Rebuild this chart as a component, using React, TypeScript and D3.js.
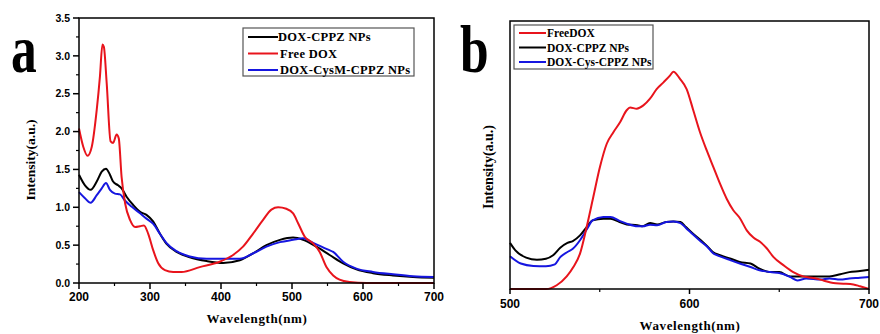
import React from 'react';
import * as d3 from 'd3';

// ---- panel a: UV-vis absorbance ----
const absWl = [200, 206, 212, 218, 225, 229.5, 233, 235, 239, 244.5, 248, 253, 256, 260, 265, 272, 279, 286, 291.5, 297.5, 304.6, 311.6, 321, 332.7, 344.5, 370, 398, 417, 431, 445, 459, 471, 480.5, 492, 501.6, 508.6, 518, 530, 539, 548.5, 558, 567, 581, 605, 700];
const absFreeDox = [2.04, 1.8, 1.68, 1.8, 2.29, 2.73, 3.15, 3.12, 2.64, 1.87, 1.85, 1.96, 1.91, 1.4, 1.05, 0.83, 0.74, 0.75, 0.76, 0.65, 0.43, 0.26, 0.17, 0.146, 0.146, 0.21, 0.28, 0.37, 0.48, 0.65, 0.83, 0.97, 1.0, 0.98, 0.92, 0.79, 0.61, 0.52, 0.41, 0.21, 0.1, 0.044, 0.013, 0, 0];

const absWl2 = [200, 208.4, 216.4, 225, 232, 238, 243.6, 248, 255, 260, 267, 276.4, 286, 295, 304.6, 314, 323, 337.4, 356, 379.8, 403, 426.5, 445, 464, 483, 501.6, 515.7, 534.4, 553, 572, 590.7, 614, 642.3, 670.4, 700];
const absCppz = [1.43, 1.29, 1.23, 1.34, 1.47, 1.51, 1.43, 1.34, 1.29, 1.25, 1.14, 1.03, 0.94, 0.9, 0.81, 0.65, 0.52, 0.41, 0.34, 0.29, 0.265, 0.3, 0.39, 0.5, 0.57, 0.6, 0.57, 0.48, 0.37, 0.26, 0.18, 0.13, 0.1, 0.08, 0.07];

const absWl3 = [200, 208.4, 216.4, 225, 232, 238, 243.6, 250.6, 257.7, 264.7, 274, 286, 295, 304.6, 314, 323, 337.4, 356, 379.8, 403, 426.5, 445, 464, 483, 501.6, 515.7, 529.8, 541.5, 551, 558, 572, 590.7, 614, 642.3, 670.4, 700];
const absCysM = [1.2, 1.12, 1.06, 1.16, 1.25, 1.32, 1.23, 1.18, 1.17, 1.09, 1.01, 0.92, 0.85, 0.78, 0.65, 0.53, 0.42, 0.35, 0.32, 0.32, 0.32, 0.39, 0.48, 0.54, 0.57, 0.59, 0.53, 0.48, 0.44, 0.41, 0.28, 0.19, 0.146, 0.115, 0.09, 0.08];

const aYTicks = [0, 0.5, 1.0, 1.5, 2.0, 2.5, 3.0, 3.5];
const aXTicks = [200, 300, 400, 500, 600, 700];

// ---- panel b: fluorescence ----
const flWlRed = [500, 520, 526, 531.6, 535.3, 539, 542.7, 546.4, 550.1, 553.9, 557.6, 561.3, 565, 566.9, 570.6, 574.3, 578, 581.7, 585.5, 589.1, 591, 594.7, 598.4, 602.1, 605.8, 609.6, 613.3, 617, 620.7, 624.4, 628.1, 631.9, 635.6, 639.3, 643, 646.7, 652.3, 657.8, 663.4, 669, 674.6, 680.1, 685.7, 691.3, 695, 700];
const flFreeDox = [0, 0, 1.4, 4.7, 8.2, 13.2, 23.1, 34.3, 45.5, 54.2, 58.5, 62.2, 66.7, 67.7, 67.3, 68.5, 71.0, 74.6, 77.1, 79.6, 81.1, 78.4, 74.6, 66.7, 58.6, 51.7, 45.5, 39.3, 33.7, 29.4, 26.4, 21.9, 19.2, 17.6, 15.2, 12.0, 8.9, 6.3, 4.7, 4.1, 3.2, 2.2, 2.0, 1.7, 1.0, 0];

const flWlBlack = [500, 503, 509, 515, 520, 524, 528, 532, 535, 539, 543, 546, 552, 556, 561, 565, 571, 574, 578, 582, 587, 591, 595, 598, 602, 606, 610, 613, 617, 623, 628, 634, 639, 645, 650, 656, 662, 670, 678, 684, 689, 695, 700];
const flCppz = [17.2, 14.4, 11.7, 10.9, 11.3, 12.6, 15.4, 17.2, 17.9, 20.0, 23.4, 25.6, 26.2, 26.2, 25.0, 24.1, 23.8, 23.4, 24.6, 24.1, 25.0, 25.2, 25.0, 23.1, 20.6, 18.4, 15.9, 13.8, 12.6, 11.3, 10.1, 9.5, 7.6, 6.3, 6.3, 4.7, 4.7, 4.7, 4.7, 5.5, 6.3, 6.7, 7.2];

const flWlBlue = [500, 506, 513, 520, 525, 528, 532, 535, 539, 543, 546, 552, 556, 561, 565, 571, 574, 578, 582, 587, 591, 595, 598, 602, 606, 610, 613, 617, 623, 628, 634, 639, 645, 650, 656, 660, 665, 673, 678, 684, 689, 695, 700];
const flCys = [12.2, 9.5, 8.6, 8.5, 9.2, 11.9, 13.8, 15.0, 18.2, 22.5, 25.6, 26.9, 26.9, 25.4, 24.4, 23.4, 23.4, 24.0, 23.8, 25.0, 25.2, 24.6, 22.8, 20.3, 17.9, 15.7, 13.4, 12.2, 10.7, 9.5, 8.2, 7.0, 6.3, 6.0, 4.5, 3.2, 3.9, 3.5, 3.9, 3.5, 3.9, 4.2, 4.5];

const bXTicks = [500, 600, 700];
const bXMinor = [550, 650];

const RED = '#e8141c';
const BLUE = '#1616e0';
const BLACK = '#000';
const serif = '"Liberation Serif", "Times New Roman", serif';
const sans = '"Liberation Sans", Arial, sans-serif';

const zip = (xs: number[], ys: number[]) => xs.map((x, i) => [x, ys[i]] as [number, number]);

const PanelA = () => {
  const x = d3.scaleLinear().domain([200, 700]).range([79, 434]);
  const y = d3.scaleLinear().domain([0, 3.5]).range([283, 18]);
  const line = d3.line<[number, number]>().x(d => x(d[0])).y(d => y(d[1])).curve(d3.curveMonotoneX);
  const minorY = d3.range(0, 3.51, 0.25).filter(v => !aYTicks.some(t => Math.abs(t - v) < 1e-6));
  const minorX = d3.range(250, 700, 100);
  const legend = [
    { label: 'DOX-CPPZ NPs', color: BLACK, dx: 0 },
    { label: 'Free DOX', color: RED, dx: 2 },
    { label: 'DOX-CysM-CPPZ NPs', color: BLUE, dx: 2 },
  ];
  return (
    <g>
      <text transform="translate(11,72) scale(0.92,1.22)" fontFamily={serif} fontWeight="bold" fontSize={56}>a</text>
      <path d={line(zip(absWl2, absCppz)) || ''} fill="none" stroke={BLACK} strokeWidth={2} />
      <path d={line(zip(absWl3, absCysM)) || ''} fill="none" stroke={BLUE} strokeWidth={2} />
      <path d={line(zip(absWl, absFreeDox)) || ''} fill="none" stroke={RED} strokeWidth={2} />
      <rect x={79} y={18} width={355} height={265} fill="none" stroke="#000" strokeWidth={1.5} />
      {aYTicks.map(t => (
        <g key={t}>
          <line x1={73} x2={79} y1={y(t)} y2={y(t)} stroke="#000" strokeWidth={1.5} />
          <text x={70} y={y(t)} dy="0.35em" textAnchor="end" fontFamily={sans} fontWeight="bold" fontSize={10.5}>{t.toFixed(1)}</text>
        </g>
      ))}
      {minorY.map(t => <line key={t} x1={76} x2={79} y1={y(t)} y2={y(t)} stroke="#000" strokeWidth={1.2} />)}
      {aXTicks.map(t => (
        <g key={t}>
          <line x1={x(t)} x2={x(t)} y1={283} y2={289} stroke="#000" strokeWidth={1.5} />
          <text x={x(t)} y={297} dy="0.35em" textAnchor="middle" fontFamily={sans} fontWeight="bold" fontSize={12}>{t}</text>
        </g>
      ))}
      {minorX.map(t => <line key={t} x1={x(t)} x2={x(t)} y1={283} y2={286} stroke="#000" strokeWidth={1.2} />)}
      <text x={257} y={318} dy="0.35em" textAnchor="middle" fontFamily={serif} fontWeight="bold" fontSize={13} letterSpacing={0.6}>Wavelength(nm)</text>
      <text transform="translate(30,160) rotate(-90)" dy="0.35em" textAnchor="middle" fontFamily={serif} fontWeight="bold" fontSize={13.5}>Intensity(a.u.)</text>
      <rect x={243} y={28} width={171} height={48} fill="#fff" stroke="#555" strokeWidth={1.2} />
      {legend.map((l, i) => (
        <g key={l.label}>
          <line x1={248} x2={278} y1={37 + i * 16.5} y2={37 + i * 16.5} stroke={l.color} strokeWidth={2} />
          <text x={278 + l.dx} y={37 + i * 16.5} dy="0.35em" fontFamily={serif} fontWeight="bold" fontSize={12.5} letterSpacing={0.3}>{l.label}</text>
        </g>
      ))}
    </g>
  );
};

const PanelB = () => {
  const x = d3.scaleLinear().domain([500, 700]).range([510, 869]);
  const y = d3.scaleLinear().domain([0, 100]).range([289, 21]);
  const line = d3.line<[number, number]>().x(d => x(d[0])).y(d => y(d[1])).curve(d3.curveMonotoneX);
  const legend = [
    { label: 'FreeDOX', color: RED },
    { label: 'DOX-CPPZ NPs', color: BLACK },
    { label: 'DOX-Cys-CPPZ NPs', color: BLUE },
  ];
  return (
    <g>
      <text transform="translate(460,72) scale(0.92,1.22)" fontFamily={serif} fontWeight="bold" fontSize={56}>b</text>
      <path d={line(zip(flWlBlack, flCppz)) || ''} fill="none" stroke={BLACK} strokeWidth={2} />
      <path d={line(zip(flWlBlue, flCys)) || ''} fill="none" stroke={BLUE} strokeWidth={2} />
      <path d={line(zip(flWlRed, flFreeDox)) || ''} fill="none" stroke={RED} strokeWidth={2} />
      <rect x={510} y={21} width={359} height={268} fill="none" stroke="#000" strokeWidth={1.5} />
      {bXTicks.map(t => (
        <g key={t}>
          <line x1={x(t)} x2={x(t)} y1={289} y2={294} stroke="#000" strokeWidth={1.5} />
          <text x={x(t)} y={304} dy="0.35em" textAnchor="middle" fontFamily={sans} fontWeight="bold" fontSize={12}>{t}</text>
        </g>
      ))}
      {bXMinor.map(t => <line key={t} x1={x(t)} x2={x(t)} y1={289} y2={292} stroke="#000" strokeWidth={1.2} />)}
      <text x={690} y={325} dy="0.35em" textAnchor="middle" fontFamily={serif} fontWeight="bold" fontSize={13} letterSpacing={0.6}>Wavelength(nm)</text>
      <text transform="translate(488,167) rotate(-90)" dy="0.35em" textAnchor="middle" fontFamily={serif} fontWeight="bold" fontSize={14}>Intensity(a.u.)</text>
      <rect x={514} y={25} width={139} height={44} fill="#fff" stroke="#555" strokeWidth={1.2} />
      {legend.map((l, i) => (
        <g key={l.label}>
          <line x1={519} x2={546} y1={33 + i * 14.5} y2={33 + i * 14.5} stroke={l.color} strokeWidth={2} />
          <text x={547} y={33 + i * 14.5} dy="0.35em" fontFamily={serif} fontWeight="bold" fontSize={11.5}>{l.label}</text>
        </g>
      ))}
    </g>
  );
};

const App = () => (
  <svg width={880} height={334} style={{ position: 'absolute', left: 0, top: 0, background: '#fff' }}>
    <PanelA />
    <PanelB />
  </svg>
);

export default App;
